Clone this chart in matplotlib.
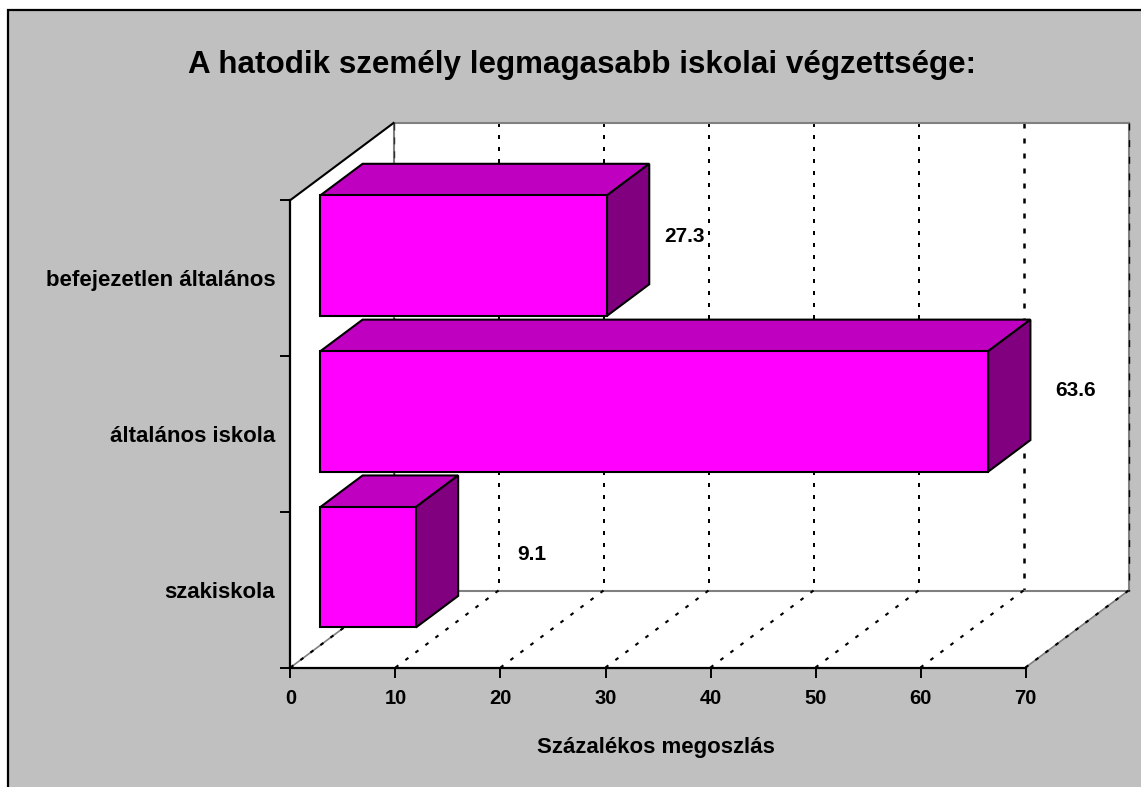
"""plot.py - 3D-style horizontal bar chart, drawn with plain polygons on a 2D axes."""

import matplotlib
matplotlib.use("Agg")
import matplotlib.pyplot as plt
from matplotlib.patches import Polygon, Rectangle

categories = ["szakiskola", "általános iskola", "befejezetlen általános"]
values = [9.1, 63.6, 27.3]
x_ticks = [0, 10, 20, 30, 40, 50, 60, 70]
title = "A hatodik személy legmagasabb iskolai végzettsége:"
x_label = "Százalékos megoszlás"

W, H = 1141, 787
X_MAX = 70
N = len(categories)

# depth of the 3D box, in data units of the front plane
DEPTH_X = 9.81
DEPTH_Y = 0.494
BAR_D0, BAR_D1 = 0.29, 0.70
BAR_H = 0.773

# label nudges relative to the bar end / band centre
LABEL_DX = [13.9, 11.15, 10.2]
LABEL_DY = [0.225, 0.28, 0.265]

plt.rcParams["font.family"] = ["Liberation Sans", "DejaVu Sans"]
plt.rcParams["font.weight"] = "bold"


def pj(x, y, d):
    """Project a point (value, band, depth 0..1) on the front plane."""
    return (x + d * DEPTH_X, y + d * DEPTH_Y)


fig = plt.figure(figsize=(W / 100, H / 100), dpi=100, facecolor="white")

# grey chart area with black frame on left and top only
fig.add_artist(Rectangle((7.5 / W, -0.05), 1.1, 1.05 - 10 / H, transform=fig.transFigure,
                         facecolor="#c0c0c0", edgecolor="black", linewidth=1.6, zorder=-1))

ax = fig.add_axes([290.5 / W, 1 - 667.5 / H, 735 / W, 467.5 / H])
ax.set_xlim(0, X_MAX)
ax.set_ylim(0, N)
ax.patch.set_visible(False)
for s in ["top", "right"]:
    ax.spines[s].set_visible(False)
for s in ["left", "bottom"]:
    ax.spines[s].set_linewidth(1.6)
    ax.spines[s].set_zorder(6)


def poly(points, color, edge="none", lw=0, z=1):
    ax.add_patch(Polygon(points, closed=True, facecolor=color, edgecolor=edge,
                         linewidth=lw, joinstyle="miter", clip_on=False, zorder=z))


def line(p0, p1, **kw):
    ax.plot([p0[0], p1[0]], [p0[1], p1[1]], clip_on=False, **kw)


# walls and floor
poly([pj(0, 0, 1), pj(X_MAX, 0, 1), pj(X_MAX, N, 1), pj(0, N, 1)], "white", z=1)
poly([pj(0, 0, 0), pj(0, 0, 1), pj(0, N, 1), pj(0, N, 0)], "white", z=1)
poly([pj(0, 0, 0), pj(X_MAX, 0, 0), pj(X_MAX, 0, 1), pj(0, 0, 1)], "white", z=1)

# dashed grid on the back wall and the floor
for t in x_ticks:
    lw = 1.8 if t >= 60 else 1.44
    if 0 < t < X_MAX:
        line(pj(t, N, 1), pj(t, 0, 1), color="black", lw=lw, linestyle=(0, (2, 4)),
             dash_capstyle="butt", zorder=2)
    line(pj(t, 0, 1), pj(t, 0, 0), color="black", lw=1.5, linestyle=(0, (1.8, 4.2)),
         dash_capstyle="butt", zorder=2.2)

# wall edges
grey = "#808080"
line(pj(0, 0, 1), pj(X_MAX, 0, 1), color=grey, lw=1.5, zorder=2.1)
line(pj(0, N, 1), pj(X_MAX, N, 1), color=grey, lw=1.5, zorder=2.1)
line(pj(0, N, 1), pj(0, 0, 1), color=grey, lw=1.5, zorder=2.1)
line(pj(X_MAX, N, 1), pj(X_MAX, 0, 1), color=grey, lw=1.5, zorder=2.1)
line(pj(0, 0, 0), pj(0, 0, 1), color=grey, lw=1.2, zorder=2.1)
line(pj(X_MAX, 0, 0), pj(X_MAX, 0, 1), color=grey, lw=1.2, zorder=2.1)
line(pj(0, N, 1), pj(0, 0, 1), color="#303030", lw=1.0, linestyle=(0, (5, 5)), zorder=2.2)
line(pj(X_MAX, N, 1), pj(X_MAX, 0, 1), color="black", lw=1.0, linestyle=(0, (5, 7)), zorder=2.2)
line(pj(0, N, 0), pj(0, N, 1), color="black", lw=1.5, zorder=3)

# bars
for i, v in enumerate(values):
    y0 = i + 0.5 - BAR_H / 2
    y1 = i + 0.5 + BAR_H / 2
    style = dict(edge="black", lw=1.5, z=4)
    poly([pj(0, y1, BAR_D0), pj(v, y1, BAR_D0), pj(v, y1, BAR_D1), pj(0, y1, BAR_D1)],
         "#c000c0", **style)
    poly([pj(v, y0, BAR_D0), pj(v, y0, BAR_D1), pj(v, y1, BAR_D1), pj(v, y1, BAR_D0)],
         "#800080", **style)
    poly([pj(0, y0, BAR_D0), pj(v, y0, BAR_D0), pj(v, y1, BAR_D0), pj(0, y1, BAR_D0)],
         "#ff00ff", **style)
    ax.text(v + LABEL_DX[i], i + 0.5 + LABEL_DY[i], f"{v:.1f}", ha="center", va="center",
            fontsize=15, fontweight="bold", color="black", zorder=7)

# ticks
ax.set_xticks(x_ticks)
ax.set_yticks(range(N + 1))
ax.set_yticklabels([])
ax.set_yticks([i + 0.5 for i in range(N)], minor=True)
ax.set_yticklabels(categories, minor=True, fontsize=16, fontweight="bold")
ax.tick_params(axis="both", which="major", length=7.2, width=1.4, labelsize=14.5)
ax.tick_params(axis="x", pad=8)
ax.tick_params(axis="y", which="minor", length=0, pad=11)

fig.text(656 / W, 1 - 748 / H, x_label, ha="center", va="center", fontsize=16,
         fontweight="bold")
fig.text(582 / W, 1 - 65 / H, title, ha="center", va="center", fontsize=22.6,
         fontweight="bold")

fig.savefig("out.png", dpi=100)
